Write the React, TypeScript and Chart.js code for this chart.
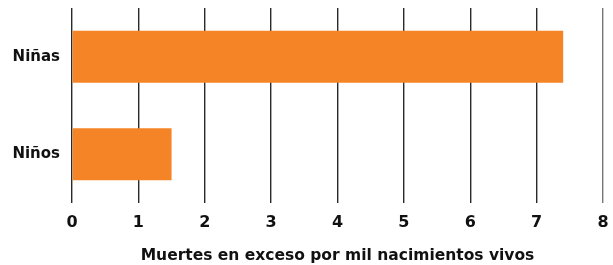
import React, { useEffect, useRef } from "react";
import { Chart, registerables } from "chart.js";

Chart.register(...registerables);

const categories = ["Niñas", "Niños"];
const values = [7.4, 1.5];
const xTicks = [0, 1, 2, 3, 4, 5, 6, 7, 8];
const axisTitle = "Muertes en exceso por mil nacimientos vivos";

const FONT = "'DejaVu Sans', sans-serif";

export default function App() {
  const ref = useRef<HTMLCanvasElement | null>(null);
  useEffect(() => {
    if (!ref.current) return;
    const chart = new Chart(ref.current, {
      type: "bar",
      data: {
        labels: categories,
        datasets: [
          {
            data: values,
            backgroundColor: "#F58426",
            borderWidth: 0,
            barPercentage: 0.533,
            categoryPercentage: 1,
          },
        ],
      },
      options: {
        indexAxis: "y",
        animation: false,
        responsive: false,
        maintainAspectRatio: false,
        layout: { padding: { top: 8, right: 10, left: 0, bottom: 0 } },
        plugins: { legend: { display: false }, tooltip: { enabled: false } },
        scales: {
          x: {
            min: xTicks[0],
            max: xTicks[xTicks.length - 1],
            afterBuildTicks: (scale: any) => {
              scale.ticks = xTicks.map((v) => ({ value: v }));
            },
            grid: {
              color: (ctx: any) => (ctx.index === xTicks.length - 1 ? "#777777" : "#2a2a2a"),
              lineWidth: 1.4,
              drawTicks: false,
            },
            border: { display: false },
            ticks: {
              padding: 10,
              color: "#111",
              font: { family: FONT, size: 16, weight: "bold" },
            },
            title: {
              display: true,
              text: axisTitle,
              color: "#111",
              font: { family: FONT, size: 15.5, weight: "bold" },
              padding: { top: 8, bottom: 0 },
            },
            afterFit: (scale: any) => {
              scale.height = 62;
              scale.paddingLeft = 0;
              scale.paddingRight = 0;
            },
          },
          y: {
            grid: { display: false },
            border: { display: false },
            ticks: {
              padding: 4,
              color: "#111",
              font: { family: FONT, size: 15, weight: "bold" },
            },
            afterFit: (scale: any) => {
              scale.width = 72;
              scale.paddingTop = 0;
              scale.paddingBottom = 0;
            },
          },
        },
      },
    });
    return () => chart.destroy();
  }, []);
  return (
    <div style={{ position: "absolute", left: 0, top: 0, width: 613, height: 265, background: "#fff" }}>
      <canvas ref={ref} width={613} height={265} style={{ width: 613, height: 265 }} />
    </div>
  );
}
